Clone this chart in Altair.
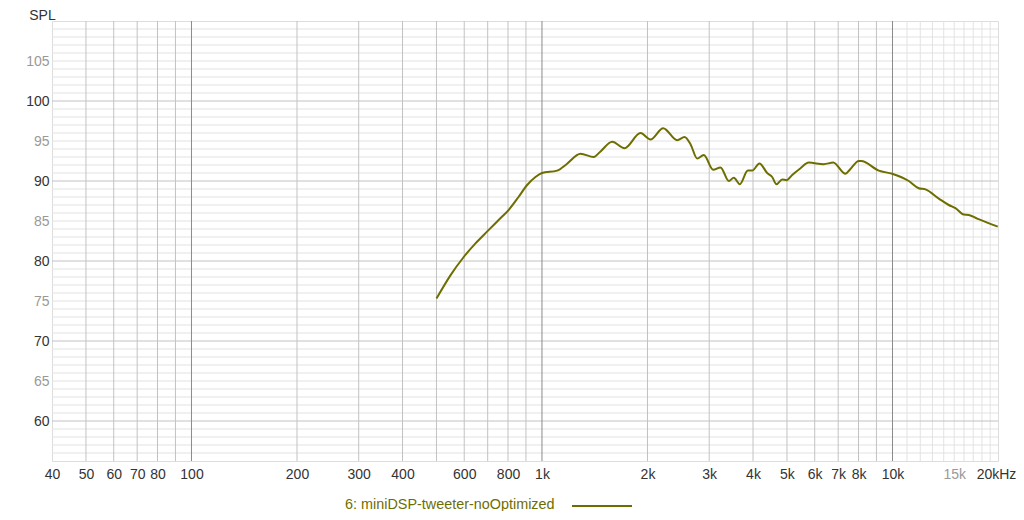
import altair as alt
import pandas as pd

# ---- data ----
freq_hz = [500, 548, 598, 646, 698, 751, 804, 857, 907, 958, 1000, 1105, 1175, 1288, 1405,
           1469, 1586, 1720, 1910, 2040, 2217, 2431, 2551, 2653, 2773, 2895, 3079, 3231,
           3412, 3527, 3668, 3866, 3979, 4174, 4390, 4537, 4667, 4845, 4985, 5174, 5466,
           5770, 6368, 6774, 7342, 7587, 8013, 8140, 9140, 9980, 11130, 11885, 12424,
           13556, 14475, 15125, 15971, 16506, 17445, 18630, 19970]
spl_db = [75.3, 78.2, 80.5, 82.2, 83.7, 85.1, 86.4, 88.0, 89.5, 90.5, 91.0, 91.3, 92.1, 93.4,
          93.0, 93.7, 94.9, 94.1, 96.0, 95.2, 96.6, 95.1, 95.5, 94.6, 92.8, 93.25, 91.4, 91.7,
          90.0, 90.4, 89.6, 91.3, 91.3, 92.2, 91.0, 90.5, 89.6, 90.2, 90.1, 90.75, 91.6,
          92.3, 92.1, 92.3, 90.9, 91.5, 92.5, 92.5, 91.3, 90.9, 90.0, 89.1, 88.95,
          87.8, 87.0, 86.6, 85.8, 85.75, 85.3, 84.8, 84.3]
series_name = "6: miniDSP-tweeter-noOptimized"

x_tick_values = [40, 50, 60, 70, 80, 100, 200, 300, 400, 600, 800, 1000, 2000, 3000, 4000,
                 5000, 6000, 7000, 8000, 10000, 15000, 20000]
y_tick_values = [60, 65, 70, 75, 80, 85, 90, 95, 100, 105]

grid_x_decade = [100, 1000, 10000]
grid_x_minor = [50, 60, 70, 80, 90, 200, 300, 400, 500, 600, 700, 800, 900,
                2000, 3000, 4000, 5000, 6000, 7000, 8000, 9000]
grid_x_fine = [11000, 12000, 13000, 14000, 15000, 16000, 17000, 18000, 19000]
grid_y_major = [60, 70, 80, 90, 100]
grid_y_minor = [v for v in range(56, 110) if v % 10 != 0]

OLIVE = "#6e6e00"
FONT = "Liberation Sans"

xscale = alt.Scale(type="log", domain=[40, 20000], nice=False)
yscale = alt.Scale(domain=[55, 110], nice=False, zero=False)

curve = pd.DataFrame({"f": freq_hz, "db": spl_db, "series": series_name})

x_axis = alt.Axis(
    values=x_tick_values,
    labelExpr="datum.value >= 20000 ? '20kHz' : (datum.value >= 1000 ? (datum.value/1000) + 'k' : '' + datum.value)",
    labelColor={"condition": {"test": "datum.value == 15000", "value": "#999999"}, "value": "#333333"},
    labelOffset={"condition": {"test": "datum.value == 20000", "value": -2}, "value": 0},
    grid=False, ticks=False, domain=False, title=None,
    labelFontSize=14, labelFont=FONT, labelPadding=6,
    labelOverlap=False, labelFlush=False, labelBound=False,
)
y_axis = alt.Axis(
    values=y_tick_values,
    labelColor={"condition": {"test": "datum.value % 10 != 0", "value": "#999999"}, "value": "#333333"},
    grid=False, ticks=False, domain=False,
    title="SPL", titleAngle=0, titleX=-10, titleY=-2, titleAlign="center",
    titleBaseline="alphabetic", titleFontWeight="normal", titleFontSize=14,
    titleColor="#333333", titleFont=FONT,
    labelFontSize=14, labelFont=FONT, labelPadding=3, labelOverlap=False,
)

def vrules(vals, color):
    return alt.Chart(pd.DataFrame({"f": vals})).mark_rule(color=color, strokeWidth=1).encode(
        x=alt.X("f:Q", scale=xscale, axis=x_axis))

def hrules(vals, color):
    return alt.Chart(pd.DataFrame({"db": vals})).mark_rule(color=color, strokeWidth=1).encode(
        y=alt.Y("db:Q", scale=yscale, axis=y_axis))

g1 = hrules(grid_y_minor, "#e2e2e2")
g2 = vrules(grid_x_fine, "#e2e2e2")
g3 = hrules(grid_y_major, "#c2c2c2")
g4 = vrules(grid_x_minor, "#c2c2c2")
g5 = vrules(grid_x_decade, "#8a8a8a")

line = alt.Chart(curve).mark_line(strokeWidth=2, interpolate="monotone").encode(
    x=alt.X("f:Q", scale=xscale, axis=x_axis),
    y=alt.Y("db:Q", scale=yscale, axis=y_axis),
    color=alt.Color("series:N", scale=alt.Scale(range=[OLIVE]),
                    legend=alt.Legend(
                        title=series_name, orient="none", legendX=293, legendY=478,
                        titleOrient="left", titleColor=OLIVE, titleFontWeight="normal",
                        titleFontSize=14.4, titleFont=FONT, titlePadding=40, titleLimit=500,
                        titleBaseline="middle", titleAnchor="middle",
                        symbolType="M-5,0H5", symbolSize=144, symbolStrokeWidth=2,
                        symbolStrokeColor=OLIVE, symbolFillColor="transparent",
                        labelExpr="''", labelFontSize=1)),
)

chart = alt.layer(g1, g2, g3, g4, g5, line).properties(
    width=946, height=440,
    padding={"left": 44, "top": 13, "right": 18, "bottom": 50},
    autosize=alt.AutoSizeParams(type="none"),
).configure_view(stroke="#b5b5b5", strokeWidth=1).configure(background="white", font=FONT)

chart.save("out.html", embed_options={"renderer": "svg", "actions": False})
